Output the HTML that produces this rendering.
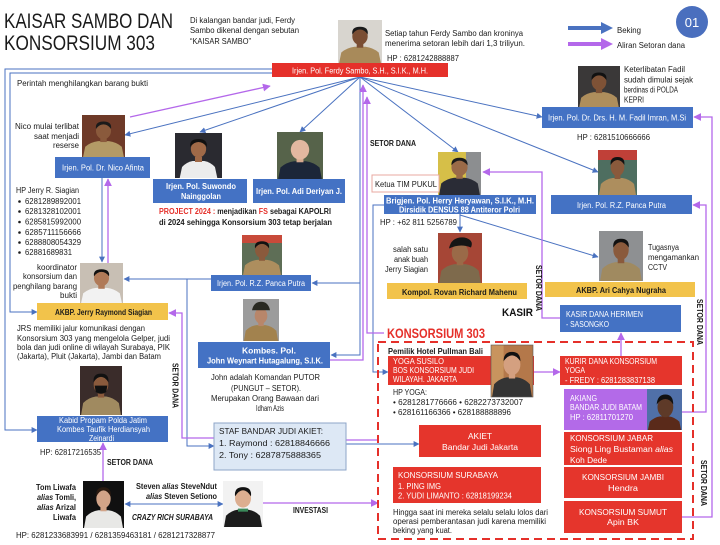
<!DOCTYPE html>
<html><head><meta charset="utf-8">
<style>
html,body{margin:0;padding:0;background:#fff;}
svg{display:block;}
text{font-family:"Liberation Sans",sans-serif;}
.t{font-size:8px;fill:#1a1a1a;}
.b{font-weight:bold;}
.w{fill:#fff;}
.i{font-style:italic;}
.r{fill:#e5302a;}
</style></head>
<body>
<svg width="720" height="545" viewBox="0 0 720 545" xmlns="http://www.w3.org/2000/svg">
<defs>
<marker id="ab" viewBox="0 0 10 10" refX="9" refY="5" markerWidth="6" markerHeight="6" orient="auto-start-reverse"><path d="M0,0 L10,5 L0,10z" fill="#4a72c0"/></marker>
<marker id="ap" viewBox="0 0 10 10" refX="9" refY="5" markerWidth="6" markerHeight="6" orient="auto-start-reverse"><path d="M0,0 L10,5 L0,10z" fill="#b468ea"/></marker>
</defs>
<rect width="720" height="545" fill="#fff"/>

<!-- TITLE -->
<text x="4" y="28" font-size="21" fill="#1a1a1a" textLength="169" lengthAdjust="spacingAndGlyphs">KAISAR SAMBO DAN</text>
<text x="4" y="50" font-size="21" fill="#1a1a1a" textLength="151" lengthAdjust="spacingAndGlyphs">KONSORSIUM 303</text>
<text class="t" x="190" y="23" textLength="105" lengthAdjust="spacingAndGlyphs">Di kalangan bandar judi, Ferdy</text>
<text class="t" x="190" y="33" textLength="109" lengthAdjust="spacingAndGlyphs">Sambo dikenal dengan sebutan</text>
<text class="t" x="190" y="44" textLength="61" lengthAdjust="spacingAndGlyphs">“KAISAR SAMBO”</text>

<text class="t" x="385" y="36" textLength="138" lengthAdjust="spacingAndGlyphs">Setiap tahun Ferdy Sambo dan kroninya</text>
<text class="t" x="385" y="46" textLength="140" lengthAdjust="spacingAndGlyphs">menerima setoran lebih dari 1,3 triliyun.</text>
<text class="t" x="387" y="61" textLength="72" lengthAdjust="spacingAndGlyphs" fill="#333">HP : 6281242888887</text>

<!-- LEGEND -->
<line x1="568" y1="28" x2="604" y2="28" stroke="#4a72c0" stroke-width="4"/>
<path d="M601,22 L613,28 L601,34z" fill="#4a72c0"/>
<line x1="568" y1="44" x2="604" y2="44" stroke="#b468ea" stroke-width="4"/>
<path d="M601,38 L613,44 L601,50z" fill="#b468ea"/>
<text class="t" x="617" y="33" textLength="24" lengthAdjust="spacingAndGlyphs" fill="#333">Beking</text>
<text class="t" x="617" y="48" textLength="68" lengthAdjust="spacingAndGlyphs" fill="#333">Aliran Setoran dana</text>
<circle cx="692" cy="22" r="16" fill="#4a6fbe"/>
<text x="692" y="27" font-size="13" fill="#fff" text-anchor="middle">01</text>

<!-- CONNECTORS BLUE -->
<g fill="none" stroke="#4a72c0" stroke-width="1">
<line x1="360" y1="77" x2="125" y2="135" marker-end="url(#ab)"/>
<line x1="360" y1="77" x2="200" y2="132" marker-end="url(#ab)"/>
<line x1="360" y1="77" x2="300" y2="132" marker-end="url(#ab)"/>
<line x1="360" y1="77" x2="458" y2="152" marker-end="url(#ab)"/>
<line x1="360" y1="77" x2="542" y2="117" marker-end="url(#ab)"/>
<line x1="360" y1="77" x2="598" y2="172" marker-end="url(#ab)"/>
<polyline points="272,69 5,69 5,430 37,430" marker-end="url(#ab)"/>
<polyline points="272,73 10,73 10,312 37,312" marker-end="url(#ab)"/>
<polyline points="360,77 360,355 331,355" marker-end="url(#ab)"/>
<polyline points="360,283 312,283" marker-end="url(#ab)"/>
<polyline points="211,279 124,279" marker-end="url(#ab)"/>
<polyline points="187,279 187,446 214,446" marker-end="url(#ab)"/>
<polyline points="102,178 102,262" marker-end="url(#ab)"/>
<polyline points="384,205 373,205 373,372 388,372" marker-end="url(#ab)"/>
<polyline points="460,214 460,232" marker-end="url(#ab)"/>
<polyline points="460,215 598,257" marker-end="url(#ab)"/>
<polyline points="346,444 419,444" marker-end="url(#ab)"/>
<polyline points="125,504 223,504" marker-start="url(#ab)" marker-end="url(#ab)"/>
</g>
<!-- CONNECTORS PURPLE -->
<g fill="none" stroke="#b468ea" stroke-width="1.3">
<polyline points="130,117 270,86" marker-end="url(#ap)"/>
<polyline points="108,263 108,179" marker-end="url(#ap)"/>
<polyline points="330,360 363,360 363,85" marker-end="url(#ap)"/>
<polyline points="384,333 367,333 367,97" marker-end="url(#ap)"/>
<polyline points="214,438 182,438 182,313 169,313" marker-end="url(#ap)"/>
<polyline points="103,481 103,443" marker-end="url(#ap)"/>
<polyline points="263,503 378,503" marker-end="url(#ap)"/>
<polyline points="346,440 378,440"/>
<polyline points="560,318 542,318 542,172 483,172" marker-end="url(#ap)"/>
<polyline points="534,372 560,372" marker-end="url(#ap)"/>
<polyline points="621,356 621,333" marker-end="url(#ap)"/>
<polyline points="682,412 706,412 706,205 693,205" marker-end="url(#ap)"/>
<polyline points="682,517 712,517 712,117 694,117" marker-end="url(#ap)"/>
</g>

<!-- PHOTOS -->
<!-- Sambo -->
<svg x="338" y="20" width="44" height="43" viewBox="0 0 40 45" preserveAspectRatio="none"><rect width="40" height="45" fill="#d8d5cf"/><path d="M1 45 L3 34 Q8 29 15 28 L25 28 Q32 29 37 34 L39 45Z" fill="#a88a5a"/><rect x="17" y="24" width="6" height="5" fill="#7a4e34"/><ellipse cx="20" cy="17" rx="7" ry="9" fill="#7a4e34"/><path d="M13 15 Q12 7 20 7 Q28 7 27 15 Q24 10 20 10 Q16 10 13 15Z" fill="#1a1a1a"/></svg>
<!-- Nico -->
<svg x="82" y="115" width="43" height="42" viewBox="0 0 40 45" preserveAspectRatio="none"><rect width="40" height="45" fill="#6e3a28"/><path d="M1 45 L3 34 Q8 29 15 28 L25 28 Q32 29 37 34 L39 45Z" fill="#b39a66"/><rect x="17" y="24" width="6" height="5" fill="#8a5a3c"/><ellipse cx="20" cy="17" rx="7" ry="9" fill="#8a5a3c"/><path d="M13 15 Q12 7 20 7 Q28 7 27 15 Q24 10 20 10 Q16 10 13 15Z" fill="#1a1a1a"/></svg>
<!-- Suwondo -->
<svg x="175" y="133" width="47" height="45" viewBox="0 0 40 45" preserveAspectRatio="none"><rect width="40" height="45" fill="#2a2a30"/><path d="M4 45 L6 34 Q10 29 15 28 L25 28 Q30 29 34 34 L36 45Z" fill="#ececec"/><rect x="17" y="24" width="6" height="5" fill="#a06a48"/><ellipse cx="20" cy="16" rx="6.5" ry="8.5" fill="#a06a48"/><path d="M13 14 Q12 6 20 6 Q28 6 27 14 Q24 9 20 9 Q16 9 13 14Z" fill="#111"/></svg>
<!-- Adi -->
<svg x="277" y="132" width="46" height="47" viewBox="0 0 40 45" preserveAspectRatio="none"><rect width="40" height="45" fill="#56634a"/><path d="M1 45 L3 34 Q8 29 15 28 L25 28 Q32 29 37 34 L39 45Z" fill="#1c2638"/><rect x="17" y="24" width="6" height="5" fill="#d8aa90"/><ellipse cx="20" cy="17" rx="8" ry="9.5" fill="#e2b8a0"/></svg>
<!-- Herry -->
<svg x="438" y="152" width="43" height="43" viewBox="0 0 40 45" preserveAspectRatio="none"><rect width="40" height="45" fill="#d6bf48"/><rect x="26" y="0" width="14" height="45" fill="#8c8e90"/><path d="M1 45 L3 33 Q8 28 15 27 L25 27 Q32 28 37 33 L39 45Z" fill="#2a2c36"/><rect x="17" y="23" width="6" height="5" fill="#9a6a48"/><ellipse cx="20" cy="16" rx="7.5" ry="9" fill="#9a6a48"/><path d="M12.5 14 Q12 6 20 6 Q28 6 27.5 14 Q24 9 20 9 Q16 9 12.5 14Z" fill="#1a1a1a"/></svg>
<!-- Fadil -->
<svg x="578" y="66" width="42" height="42" viewBox="0 0 40 45" preserveAspectRatio="none"><rect width="40" height="45" fill="#3a3838"/><path d="M1 45 L3 34 Q8 29 15 28 L25 28 Q32 29 37 34 L39 45Z" fill="#ae8e5c"/><rect x="17" y="24" width="6" height="5" fill="#7e5236"/><ellipse cx="20" cy="17" rx="7" ry="9" fill="#7e5236"/><path d="M13 15 Q12 7 20 7 Q28 7 27 15 Q24 10 20 10 Q16 10 13 15Z" fill="#111"/></svg>
<!-- Panca right -->
<svg x="598" y="150" width="39" height="45" viewBox="0 0 40 45" preserveAspectRatio="none"><rect width="40" height="45" fill="#4e6e60"/><rect x="0" y="0" width="40" height="10" fill="#c04038"/><path d="M1 45 L3 34 Q8 29 15 28 L25 28 Q32 29 37 34 L39 45Z" fill="#ad8e5e"/><rect x="17" y="24" width="6" height="5" fill="#8a5a3c"/><ellipse cx="20" cy="17" rx="7" ry="9" fill="#8a5a3c"/><path d="M13 15 Q12 7 20 7 Q28 7 27 15 Q24 10 20 10 Q16 10 13 15Z" fill="#111"/></svg>
<!-- Panca mid -->
<svg x="242" y="235" width="40" height="40" viewBox="0 0 40 45" preserveAspectRatio="none"><rect width="40" height="45" fill="#5e6e56"/><rect x="0" y="0" width="40" height="9" fill="#c84a3a"/><path d="M1 45 L3 34 Q8 29 15 28 L25 28 Q32 29 37 34 L39 45Z" fill="#ad8e5e"/><rect x="17" y="24" width="6" height="5" fill="#8a5a3c"/><ellipse cx="20" cy="17" rx="7" ry="9" fill="#8a5a3c"/><path d="M13 15 Q12 7 20 7 Q28 7 27 15 Q24 10 20 10 Q16 10 13 15Z" fill="#111"/></svg>
<!-- Rovan -->
<svg x="438" y="233" width="44" height="50" viewBox="0 0 40 45" preserveAspectRatio="none"><rect width="40" height="45" fill="#a64636"/><path d="M1 45 L3 34 Q8 29 15 28 L25 28 Q32 29 37 34 L39 45Z" fill="#7e6a4c"/><rect x="17" y="24" width="6" height="5" fill="#9a6a48"/><ellipse cx="20" cy="18" rx="7.5" ry="9" fill="#9a6a48"/><path d="M10 14 Q12 3 24 4 Q33 6 30 13 Q20 9 10 14Z" fill="#151515"/></svg>
<!-- Ari -->
<svg x="599" y="231" width="44" height="50" viewBox="0 0 40 45" preserveAspectRatio="none"><rect width="40" height="45" fill="#8e9092"/><path d="M1 45 L3 34 Q8 29 15 28 L25 28 Q32 29 37 34 L39 45Z" fill="#a08a60"/><rect x="17" y="24" width="6" height="5" fill="#8a5a3c"/><ellipse cx="20" cy="17" rx="7" ry="9" fill="#8a5a3c"/><path d="M13 15 Q12 7 20 7 Q28 7 27 15 Q24 10 20 10 Q16 10 13 15Z" fill="#111"/></svg>
<!-- Jerry -->
<svg x="80" y="263" width="43" height="40" viewBox="0 0 40 45" preserveAspectRatio="none"><rect width="40" height="45" fill="#c8bfb4"/><path d="M1 45 L3 34 Q8 29 15 28 L25 28 Q32 29 37 34 L39 45Z" fill="#f2f2f2"/><rect x="17" y="24" width="6" height="5" fill="#b07a58"/><ellipse cx="20" cy="17" rx="7" ry="9" fill="#b07a58"/><path d="M13 15 Q12 7 20 7 Q28 7 27 15 Q24 10 20 10 Q16 10 13 15Z" fill="#111"/></svg>
<!-- John -->
<svg x="243" y="299" width="36" height="42" viewBox="0 0 40 45" preserveAspectRatio="none"><rect width="40" height="45" fill="#9c9c9c"/><path d="M1 45 L3 34 Q8 29 15 28 L25 28 Q32 29 37 34 L39 45Z" fill="#a2824e"/><rect x="17" y="24" width="6" height="5" fill="#b8866a"/><ellipse cx="20" cy="18" rx="7" ry="8.5" fill="#b8866a"/><path d="M10 12 Q12 3 20 3 Q28 3 30 12Z" fill="#2a2a22"/></svg>
<!-- Kabid -->
<svg x="80" y="366" width="42" height="49" viewBox="0 0 40 45" preserveAspectRatio="none"><rect width="40" height="45" fill="#3a2c2a"/><path d="M1 45 L3 34 Q8 29 15 28 L25 28 Q32 29 37 34 L39 45Z" fill="#a08a60"/><rect x="17" y="24" width="6" height="5" fill="#8a5a3c"/><ellipse cx="20" cy="17" rx="7" ry="9" fill="#8a5a3c"/><path d="M14 18 L26 18 L25 24 Q20 27 15 24Z" fill="#111"/><path d="M13 15 Q12 7 20 7 Q28 7 27 15 Q24 10 20 10 Q16 10 13 15Z" fill="#111"/></svg>
<!-- Tom -->
<svg x="83" y="481" width="41" height="47" viewBox="0 0 40 45" preserveAspectRatio="none"><rect width="40" height="45" fill="#101010"/><path d="M1 45 L3 34 Q8 29 15 28 L25 28 Q32 29 37 34 L39 45Z" fill="#e8e8e6"/><rect x="17" y="24" width="6" height="5" fill="#d2a488"/><ellipse cx="20" cy="17" rx="7" ry="9" fill="#d2a488"/><path d="M13 15 Q12 6 20 6 Q28 6 27 15 Q24 9 20 9 Q16 9 13 15Z" fill="#2a1a10"/></svg>
<!-- Steven -->
<svg x="223" y="481" width="40" height="46" viewBox="0 0 40 45" preserveAspectRatio="none"><rect width="40" height="45" fill="#f2f2f2"/><path d="M1 45 L3 34 Q8 29 15 28 L25 28 Q32 29 37 34 L39 45Z" fill="#1c1c1c"/><rect x="15" y="27" width="10" height="3" fill="#3a8a5a"/><ellipse cx="20" cy="17" rx="8" ry="9" fill="#dcae90"/><path d="M12 15 Q11 6 20 6 Q29 6 28 15 Q24 9 20 9 Q16 9 12 15Z" fill="#111"/></svg>
<!-- Yoga -->
<svg x="491" y="345" width="42" height="52" viewBox="0 0 40 45" preserveAspectRatio="none"><rect width="40" height="45" fill="#b4784a"/><path d="M1 45 L3 34 Q8 29 15 28 L25 28 Q32 29 37 34 L39 45Z" fill="#343434"/><rect x="17" y="24" width="6" height="5" fill="#d4a080"/><ellipse cx="20" cy="17" rx="8" ry="9" fill="#d4a080"/><path d="M12 14 Q12 6 20 6 Q28 6 28 14 Q24 9 20 9 Q16 9 12 14Z" fill="#111"/></svg>
<!-- Akiang -->
<svg x="647" y="389" width="35" height="41" viewBox="0 0 40 45" preserveAspectRatio="none"><rect width="40" height="45" fill="#5070a8"/><path d="M1 45 L3 36 Q8 31 15 30 L25 30 Q32 31 37 36 L39 45Z" fill="#5a2a1a"/><ellipse cx="21" cy="20" rx="9" ry="11" fill="#5e3a28"/><path d="M11 17 Q12 6 21 6 Q30 6 30 17 Q26 11 21 11 Q16 11 11 17Z" fill="#111"/></svg>

<!-- SAMBO BOX -->
<rect x="272" y="63" width="176" height="14" fill="#e5302a"/>
<text class="t w" x="292" y="73.5" textLength="136" lengthAdjust="spacingAndGlyphs">Irjen. Pol. Ferdy Sambo, S.H., S.I.K., M.H.</text>

<!-- FADIL -->
<text class="t" x="624" y="72" textLength="61" lengthAdjust="spacingAndGlyphs">Keterlibatan Fadil</text>
<text class="t" x="624" y="82.5" textLength="69" lengthAdjust="spacingAndGlyphs">sudah dimulai sejak</text>
<text class="t" x="624" y="92.5" textLength="54" lengthAdjust="spacingAndGlyphs">berdinas di POLDA</text>
<text class="t" x="624" y="102.5" textLength="20" lengthAdjust="spacingAndGlyphs">KEPRI</text>
<rect x="542" y="107" width="151" height="21" fill="#4472c4"/>
<text class="t w" x="548" y="120.5" textLength="138" lengthAdjust="spacingAndGlyphs">Irjen. Pol. Dr. Drs. H. M. Fadil Imran, M.Si</text>
<text class="t" x="577" y="140" textLength="73" lengthAdjust="spacingAndGlyphs">HP : 6281510666666</text>

<!-- PANCA RIGHT -->
<rect x="551" y="195" width="141" height="19" fill="#4472c4"/>
<text class="t w" x="577" y="208" textLength="89" lengthAdjust="spacingAndGlyphs">Irjen. Pol. R.Z. Panca Putra</text>

<!-- ARI -->
<text class="t" x="648" y="250" textLength="31" lengthAdjust="spacingAndGlyphs">Tugasnya</text>
<text class="t" x="648" y="260" textLength="51" lengthAdjust="spacingAndGlyphs">mengamankan</text>
<text class="t" x="648" y="270" textLength="19" lengthAdjust="spacingAndGlyphs">CCTV</text>
<rect x="545" y="282" width="150" height="15" fill="#f2c34b"/>
<text class="t b" x="576" y="293" textLength="90" lengthAdjust="spacingAndGlyphs">AKBP. Ari Cahya Nugraha</text>

<!-- KASIR -->
<rect x="560" y="305" width="121" height="27" fill="#4472c4"/>
<text class="t w" x="566" y="317" textLength="77" lengthAdjust="spacingAndGlyphs">KASIR DANA HERIMEN</text>
<text class="t w" x="566" y="327" textLength="43" lengthAdjust="spacingAndGlyphs">- SASONGKO</text>
<text x="502" y="316" font-size="11" font-weight="bold" fill="#111" textLength="31" lengthAdjust="spacingAndGlyphs">KASIR</text>

<!-- HERRY -->
<rect x="372" y="175" width="67" height="17" fill="#fff" stroke="#e8a8a0" stroke-width="1"/>
<text class="t" x="375" y="187" textLength="62" lengthAdjust="spacingAndGlyphs">Ketua TIM PUKUL</text>
<rect x="384" y="195" width="152" height="19" fill="#4472c4"/>
<text class="t w b" x="386" y="203.5" font-size="7.5" textLength="148" lengthAdjust="spacingAndGlyphs">Brigjen. Pol. Herry Heryawan, S.I.K., M.H.</text>
<text class="t w b" x="399" y="212.5" font-size="7.5" textLength="121" lengthAdjust="spacingAndGlyphs">Dirsidik DENSUS 88 Antiteror Polri</text>
<text class="t" x="380" y="225" textLength="77" lengthAdjust="spacingAndGlyphs">HP : +62 811 5256789</text>

<!-- ROVAN -->
<text class="t" x="393" y="252" textLength="35" lengthAdjust="spacingAndGlyphs">salah satu</text>
<text class="t" x="394" y="262" textLength="34" lengthAdjust="spacingAndGlyphs">anak buah</text>
<text class="t" x="385" y="272" textLength="43" lengthAdjust="spacingAndGlyphs">Jerry Siagian</text>
<rect x="387" y="283" width="140" height="16" fill="#f2c34b"/>
<text class="t b" x="402" y="295" textLength="115" lengthAdjust="spacingAndGlyphs">Kompol. Rovan Richard Mahenu</text>

<text class="t b" x="370" y="146" textLength="46" lengthAdjust="spacingAndGlyphs">SETOR DANA</text>

<!-- VERTICAL LABELS -->
<text class="t b" font-size="7.5" transform="translate(172.5,363) rotate(90)" textLength="45" lengthAdjust="spacingAndGlyphs">SETOR DANA</text>
<text class="t b" font-size="7.5" transform="translate(536,265) rotate(90)" textLength="46" lengthAdjust="spacingAndGlyphs">SETOR DANA</text>
<text class="t b" font-size="7.5" transform="translate(697,299) rotate(90)" textLength="46" lengthAdjust="spacingAndGlyphs">SETOR DANA</text>
<text class="t b" font-size="7.5" transform="translate(701,460) rotate(90)" textLength="46" lengthAdjust="spacingAndGlyphs">SETOR DANA</text>

<!-- KONSORSIUM 303 -->
<text x="387" y="338" font-size="14" font-weight="bold" fill="#e5302a" textLength="98" lengthAdjust="spacingAndGlyphs">KONSORSIUM 303</text>
<rect x="378" y="342" width="315" height="197" fill="none" stroke="#e5302a" stroke-width="2" stroke-dasharray="8 5"/>

<text class="t b" x="388" y="354" font-size="7.5" textLength="95" lengthAdjust="spacingAndGlyphs">Pemilik Hotel Pullman Bali</text>
<rect x="388" y="356" width="146" height="29" fill="#e5352c"/>
<text class="t w" x="393" y="364" font-size="7.5" textLength="51" lengthAdjust="spacingAndGlyphs">YOGA SUSILO</text>
<text class="t w" x="393" y="373" font-size="7.5" textLength="81" lengthAdjust="spacingAndGlyphs">BOS KONSORSIUM JUDI</text>
<text class="t w" x="393" y="382" font-size="7.5" textLength="64" lengthAdjust="spacingAndGlyphs">WILAYAH. JAKARTA</text>
<svg x="491" y="345" width="42" height="52" viewBox="0 0 40 45" preserveAspectRatio="none"><rect width="40" height="45" fill="#b4784a"/><rect x="0" y="0" width="12" height="45" fill="#c8945e"/><path d="M1 45 L3 34 Q8 29 15 28 L25 28 Q32 29 37 34 L39 45Z" fill="#343434"/><rect x="17" y="24" width="6" height="5" fill="#d4a080"/><ellipse cx="20" cy="17" rx="8" ry="9" fill="#d4a080"/><path d="M12 14 Q12 6 20 6 Q28 6 28 14 Q24 9 20 9 Q16 9 12 14Z" fill="#111"/></svg>
<rect x="491" y="345" width="42" height="52" fill="none" stroke="#555" stroke-width="0.6"/>
<text class="t" x="393" y="395" font-size="7.5" textLength="34" lengthAdjust="spacingAndGlyphs">HP YOGA:</text>
<text class="t" x="393" y="405" font-size="7.5" textLength="130" lengthAdjust="spacingAndGlyphs">• 6281281776666 • 6282273732007</text>
<text class="t" x="393" y="415" font-size="7.5" textLength="118" lengthAdjust="spacingAndGlyphs">• 628161166366 • 628188888896</text>

<rect x="419" y="425" width="122" height="32" fill="#e5352c"/>
<text class="t w" x="468" y="439" font-size="9.5" textLength="24" lengthAdjust="spacingAndGlyphs">AKIET</text>
<text class="t w" x="442" y="450" font-size="9.5" textLength="76" lengthAdjust="spacingAndGlyphs">Bandar Judi Jakarta</text>

<rect x="393" y="467" width="148" height="36" fill="#e5352c"/>
<text class="t w" x="398" y="478" font-size="9.5" textLength="100" lengthAdjust="spacingAndGlyphs">KONSORSIUM SURABAYA</text>
<text class="t w" x="398" y="489" font-size="7.5" textLength="43" lengthAdjust="spacingAndGlyphs">1. PING IMG</text>
<text class="t w" x="398" y="498.5" font-size="7.5" textLength="114" lengthAdjust="spacingAndGlyphs">2. YUDI LIMANTO : 62818199234</text>

<text class="t" x="393" y="515" font-size="7.5" textLength="155" lengthAdjust="spacingAndGlyphs">Hingga saat ini mereka selalu selalu lolos dari</text>
<text class="t" x="393" y="524" font-size="7.5" textLength="153" lengthAdjust="spacingAndGlyphs">operasi pemberantasan judi karena memiliki</text>
<text class="t" x="393" y="533" font-size="7.5" textLength="59" lengthAdjust="spacingAndGlyphs">beking yang kuat.</text>

<rect x="560" y="356" width="122" height="29" fill="#e5352c"/>
<text class="t w" x="565" y="364" font-size="7.5" textLength="92" lengthAdjust="spacingAndGlyphs">KURIR DANA KONSORSIUM</text>
<text class="t w" x="565" y="373" font-size="7.5" textLength="20" lengthAdjust="spacingAndGlyphs">YOGA</text>
<text class="t w" x="565" y="383" font-size="7.5" textLength="90" lengthAdjust="spacingAndGlyphs">- FREDY : 6281283837138</text>

<rect x="564" y="389" width="83" height="41" fill="#b36ae8"/>
<text class="t w" x="570" y="401" font-size="7.5" textLength="27" lengthAdjust="spacingAndGlyphs">AKIANG</text>
<text class="t w" x="570" y="410" font-size="7.5" textLength="72" lengthAdjust="spacingAndGlyphs">BANDAR JUDI BATAM</text>
<text class="t w" x="570" y="420" font-size="7.5" textLength="63" lengthAdjust="spacingAndGlyphs">HP : 62811701270</text>

<rect x="564" y="432" width="118" height="33" fill="#e5352c"/>
<text class="t w" x="570" y="441" font-size="8.5" textLength="83" lengthAdjust="spacingAndGlyphs">KONSORSIUM JABAR</text>
<text class="t w" x="570" y="452" font-size="8.5" textLength="103" lengthAdjust="spacingAndGlyphs">Siong Ling Bustaman <tspan class="i">alias</tspan></text>
<text class="t w" x="570" y="463" font-size="8.5" textLength="37" lengthAdjust="spacingAndGlyphs">Koh Dede</text>

<rect x="564" y="467" width="118" height="31" fill="#e5352c"/>
<text class="t w" x="582" y="480" font-size="8.5" textLength="82" lengthAdjust="spacingAndGlyphs">KONSORSIUM JAMBI</text>
<text class="t w" x="608" y="491" font-size="8.5" textLength="30" lengthAdjust="spacingAndGlyphs">Hendra</text>

<rect x="564" y="501" width="118" height="32" fill="#e5352c"/>
<text class="t w" x="579" y="515" font-size="8.5" textLength="88" lengthAdjust="spacingAndGlyphs">KONSORSIUM SUMUT</text>
<text class="t w" x="607" y="525" font-size="8.5" textLength="32" lengthAdjust="spacingAndGlyphs">Apin BK</text>

<!-- LEFT SIDE -->
<text class="t" x="17" y="86" textLength="131" lengthAdjust="spacingAndGlyphs">Perintah menghilangkan barang bukti</text>
<text class="t" x="15" y="129" textLength="64" lengthAdjust="spacingAndGlyphs">Nico mulai terlibat</text>
<text class="t" x="34" y="139" textLength="45" lengthAdjust="spacingAndGlyphs">saat menjadi</text>
<text class="t" x="53" y="148" textLength="26" lengthAdjust="spacingAndGlyphs">reserse</text>
<rect x="55" y="157" width="95" height="21" fill="#4472c4"/>
<text class="t w" x="62" y="170.5" textLength="82" lengthAdjust="spacingAndGlyphs">Irjen. Pol. Dr. Nico Afinta</text>

<rect x="153" y="179" width="94" height="24" fill="#4472c4"/>
<text class="t w b" x="166" y="189" textLength="70" lengthAdjust="spacingAndGlyphs">Irjen. Pol. Suwondo</text>
<text class="t w b" x="181" y="199" textLength="40" lengthAdjust="spacingAndGlyphs">Nainggolan</text>
<rect x="253" y="179" width="92" height="24" fill="#4472c4"/>
<text class="t w b" x="256" y="194" textLength="86" lengthAdjust="spacingAndGlyphs">Irjen. Pol. Adi Deriyan J.</text>

<text class="t b" x="159" y="214" textLength="172" lengthAdjust="spacingAndGlyphs"><tspan class="r">PROJECT 2024 :</tspan> menjadikan <tspan class="r">FS</tspan> sebagai KAPOLRI</text>
<text class="t b" x="159" y="225" textLength="173" lengthAdjust="spacingAndGlyphs">di 2024 sehingga Konsorsium 303 tetap berjalan</text>

<rect x="211" y="275" width="100" height="16" fill="#4472c4"/>
<text class="t w" x="217" y="286" textLength="88" lengthAdjust="spacingAndGlyphs">Irjen. Pol. R.Z. Panca Putra</text>

<text class="t" x="16" y="193" textLength="63" lengthAdjust="spacingAndGlyphs">HP Jerry R. Siagian</text>
<g fill="#1a1a1a">
<circle cx="19.5" cy="201.5" r="1.3"/><circle cx="19.5" cy="211.5" r="1.3"/><circle cx="19.5" cy="222" r="1.3"/><circle cx="19.5" cy="232.5" r="1.3"/><circle cx="19.5" cy="242.5" r="1.3"/><circle cx="19.5" cy="252.5" r="1.3"/>
</g>
<text class="t" x="25" y="204" textLength="56" lengthAdjust="spacingAndGlyphs">6281289892001</text>
<text class="t" x="25" y="214" textLength="56" lengthAdjust="spacingAndGlyphs">6281328102001</text>
<text class="t" x="25" y="224.5" textLength="56" lengthAdjust="spacingAndGlyphs">6285815992000</text>
<text class="t" x="25" y="235" textLength="56" lengthAdjust="spacingAndGlyphs">6285711156666</text>
<text class="t" x="25" y="245" textLength="56" lengthAdjust="spacingAndGlyphs">6288808054329</text>
<text class="t" x="25" y="255" textLength="47" lengthAdjust="spacingAndGlyphs">62881689831</text>

<text class="t" x="37" y="270" textLength="40" lengthAdjust="spacingAndGlyphs">koordinator</text>
<text class="t" x="23" y="279" textLength="54" lengthAdjust="spacingAndGlyphs">konsorsium dan</text>
<text class="t" x="13" y="289" textLength="64" lengthAdjust="spacingAndGlyphs">penghilang barang</text>
<text class="t" x="60" y="298" textLength="17" lengthAdjust="spacingAndGlyphs">bukti</text>
<rect x="37" y="303" width="131" height="17" fill="#f2c34b"/>
<text class="t b" x="55" y="315" textLength="97" lengthAdjust="spacingAndGlyphs">AKBP. Jerry Raymond Siagian</text>

<text class="t" x="17" y="331" textLength="128" lengthAdjust="spacingAndGlyphs">JRS memiliki jalur komunikasi dengan</text>
<text class="t" x="17" y="341" textLength="153" lengthAdjust="spacingAndGlyphs">Konsorsium 303 yang mengelola Gelper, judi</text>
<text class="t" x="17" y="350" textLength="153" lengthAdjust="spacingAndGlyphs">bola dan judi online di wilayah Surabaya, PIK</text>
<text class="t" x="17" y="359" textLength="144" lengthAdjust="spacingAndGlyphs">(Jakarta), Pluit (Jakarta), Jambi dan Batam</text>

<rect x="37" y="416" width="131" height="26" fill="#4472c4"/>
<text class="t w" x="59" y="423" font-size="7.5" textLength="88" lengthAdjust="spacingAndGlyphs">Kabid Propam Polda Jatim</text>
<text class="t w" x="57" y="432" font-size="7.5" textLength="93" lengthAdjust="spacingAndGlyphs">Kombes Taufik Herdiansyah</text>
<text class="t w" x="89" y="441" font-size="7.5" textLength="25" lengthAdjust="spacingAndGlyphs">Zeinardi</text>
<text class="t" x="40" y="455" textLength="61" lengthAdjust="spacingAndGlyphs">HP: 62817216535</text>
<text class="t b" x="107" y="465" textLength="46" lengthAdjust="spacingAndGlyphs">SETOR DANA</text>

<text class="t b" x="36" y="490" textLength="40" lengthAdjust="spacingAndGlyphs">Tom Liwafa</text>
<text class="t b" x="37" y="500" textLength="39" lengthAdjust="spacingAndGlyphs"><tspan class="i">alias</tspan> Tomli,</text>
<text class="t b" x="37" y="510" textLength="39" lengthAdjust="spacingAndGlyphs"><tspan class="i">alias</tspan> Arizal</text>
<text class="t b" x="53" y="520" textLength="23" lengthAdjust="spacingAndGlyphs">Liwafa</text>

<text class="t b" x="136" y="489" textLength="81" lengthAdjust="spacingAndGlyphs">Steven <tspan class="i">alias</tspan> SteveNdut</text>
<text class="t b" x="146" y="499" textLength="71" lengthAdjust="spacingAndGlyphs"><tspan class="i">alias</tspan> Steven Setiono</text>
<text class="t b i" x="132" y="520" textLength="81" lengthAdjust="spacingAndGlyphs">CRAZY RICH SURABAYA</text>
<text class="t" x="16" y="538" textLength="199" lengthAdjust="spacingAndGlyphs">HP: 6281233683991 / 6281359463181 / 6281217328877</text>
<text class="t b" x="293" y="513" textLength="35" lengthAdjust="spacingAndGlyphs">INVESTASI</text>

<!-- JOHN -->
<rect x="198" y="342" width="132" height="26" fill="#4472c4"/>
<text class="t w b" x="242" y="353.5" textLength="54" lengthAdjust="spacingAndGlyphs">Kombes. Pol.</text>
<text class="t w b" x="207" y="363.5" textLength="116" lengthAdjust="spacingAndGlyphs">John Weynart Hutagalung, S.I.K.</text>
<text class="t" x="211" y="380" font-size="7.5" textLength="109" lengthAdjust="spacingAndGlyphs">John adalah Komandan PUTOR</text>
<text class="t" x="231" y="391" font-size="7.5" textLength="70" lengthAdjust="spacingAndGlyphs">(PUNGUT – SETOR).</text>
<text class="t" x="211" y="401" font-size="7.5" textLength="108" lengthAdjust="spacingAndGlyphs">Merupakan Orang Bawaan dari</text>
<text class="t" x="256" y="411" font-size="7.5" textLength="28" lengthAdjust="spacingAndGlyphs">Idham Azis</text>

<!-- STAF -->
<rect x="214" y="423" width="132" height="47" fill="#dde8f5" stroke="#8ea6c8" stroke-width="1"/>
<text class="t" x="219" y="434" font-size="9.5" textLength="104" lengthAdjust="spacingAndGlyphs">STAF BANDAR JUDI AKIET:</text>
<text class="t" x="219" y="446" font-size="9.5" textLength="111" lengthAdjust="spacingAndGlyphs">1. Raymond : 62818846666</text>
<text class="t" x="219" y="458" font-size="9.5" textLength="102" lengthAdjust="spacingAndGlyphs">2. Tony : 6287875888365</text>
</svg>
</body></html>
